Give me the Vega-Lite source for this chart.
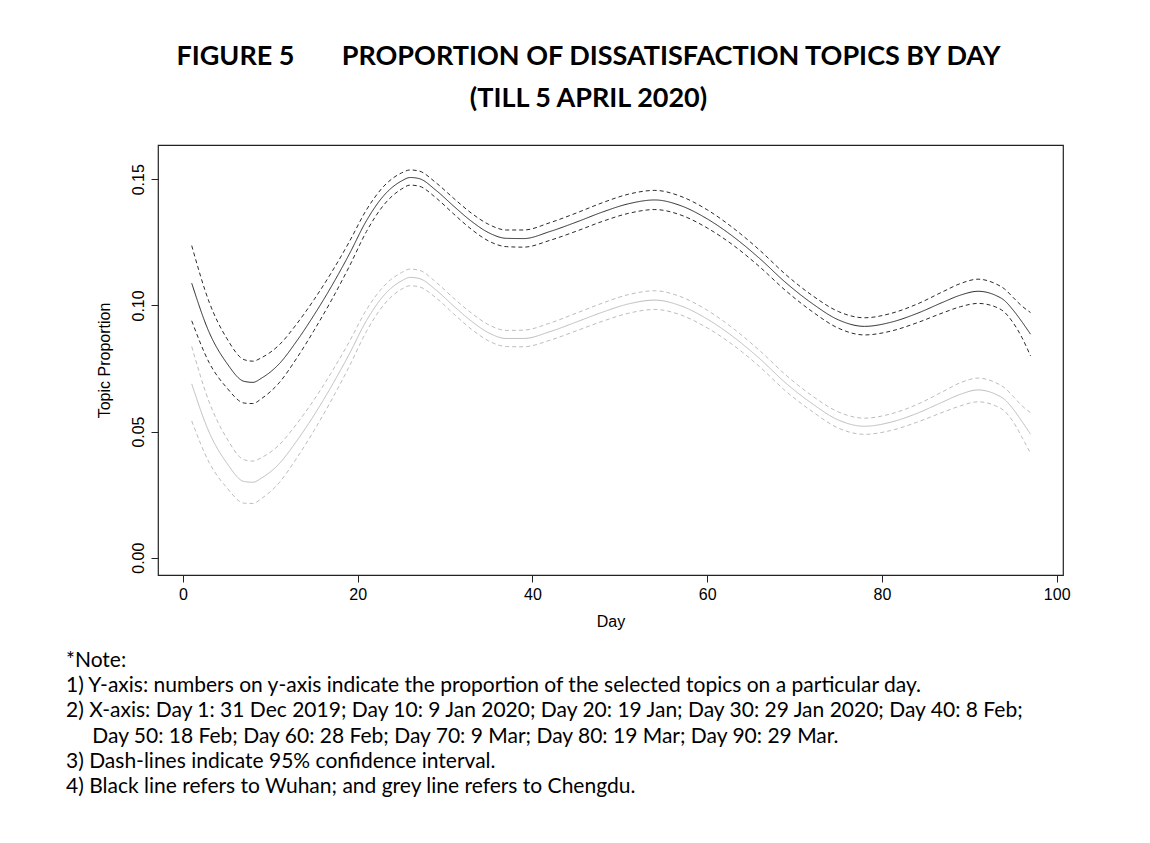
{
  "$schema": "https://vega.github.io/schema/vega-lite/v6.json",
  "background": "white",
  "padding": {"left": 66, "top": 42, "right": 10, "bottom": 10},
  "bounds": "flush",
  "spacing": 92,
  "config": {"view": {"stroke": null}},
  "datasets": {
    "curves": [
      {"city": "Wuhan", "day": 1, "est": 0.1088, "hi": 0.1237, "lo": 0.0939},
      {"city": "Wuhan", "day": 3, "est": 0.0893, "hi": 0.1013, "lo": 0.0773},
      {"city": "Wuhan", "day": 5, "est": 0.0772, "hi": 0.0870, "lo": 0.0674},
      {"city": "Wuhan", "day": 7, "est": 0.0699, "hi": 0.0785, "lo": 0.0613},
      {"city": "Wuhan", "day": 8, "est": 0.0695, "hi": 0.0779, "lo": 0.0611},
      {"city": "Wuhan", "day": 9, "est": 0.0712, "hi": 0.0793, "lo": 0.0631},
      {"city": "Wuhan", "day": 11, "est": 0.0768, "hi": 0.0843, "lo": 0.0693},
      {"city": "Wuhan", "day": 13, "est": 0.0858, "hi": 0.0926, "lo": 0.0790},
      {"city": "Wuhan", "day": 15, "est": 0.0962, "hi": 0.1023, "lo": 0.0901},
      {"city": "Wuhan", "day": 17, "est": 0.1076, "hi": 0.1131, "lo": 0.1021},
      {"city": "Wuhan", "day": 19, "est": 0.1201, "hi": 0.1250, "lo": 0.1152},
      {"city": "Wuhan", "day": 21, "est": 0.1336, "hi": 0.1379, "lo": 0.1293},
      {"city": "Wuhan", "day": 23, "est": 0.1436, "hi": 0.1473, "lo": 0.1399},
      {"city": "Wuhan", "day": 25, "est": 0.1493, "hi": 0.1525, "lo": 0.1461},
      {"city": "Wuhan", "day": 26, "est": 0.1507, "hi": 0.1537, "lo": 0.1477},
      {"city": "Wuhan", "day": 27, "est": 0.1503, "hi": 0.1533, "lo": 0.1473},
      {"city": "Wuhan", "day": 29, "est": 0.1455, "hi": 0.1485, "lo": 0.1425},
      {"city": "Wuhan", "day": 31, "est": 0.1393, "hi": 0.1424, "lo": 0.1362},
      {"city": "Wuhan", "day": 33, "est": 0.1334, "hi": 0.1366, "lo": 0.1302},
      {"city": "Wuhan", "day": 35, "est": 0.1288, "hi": 0.1321, "lo": 0.1255},
      {"city": "Wuhan", "day": 37, "est": 0.1266, "hi": 0.1299, "lo": 0.1233},
      {"city": "Wuhan", "day": 39, "est": 0.1265, "hi": 0.1299, "lo": 0.1231},
      {"city": "Wuhan", "day": 42, "est": 0.1293, "hi": 0.1328, "lo": 0.1258},
      {"city": "Wuhan", "day": 45, "est": 0.1330, "hi": 0.1366, "lo": 0.1294},
      {"city": "Wuhan", "day": 48, "est": 0.1370, "hi": 0.1407, "lo": 0.1333},
      {"city": "Wuhan", "day": 51, "est": 0.1403, "hi": 0.1441, "lo": 0.1365},
      {"city": "Wuhan", "day": 54, "est": 0.1418, "hi": 0.1456, "lo": 0.1380},
      {"city": "Wuhan", "day": 57, "est": 0.1395, "hi": 0.1432, "lo": 0.1358},
      {"city": "Wuhan", "day": 60, "est": 0.1343, "hi": 0.1379, "lo": 0.1307},
      {"city": "Wuhan", "day": 63, "est": 0.1272, "hi": 0.1306, "lo": 0.1238},
      {"city": "Wuhan", "day": 66, "est": 0.1186, "hi": 0.1219, "lo": 0.1153},
      {"city": "Wuhan", "day": 69, "est": 0.1090, "hi": 0.1122, "lo": 0.1058},
      {"city": "Wuhan", "day": 72, "est": 0.1008, "hi": 0.1040, "lo": 0.0976},
      {"city": "Wuhan", "day": 75, "est": 0.0943, "hi": 0.0976, "lo": 0.0910},
      {"city": "Wuhan", "day": 78, "est": 0.0917, "hi": 0.0951, "lo": 0.0883},
      {"city": "Wuhan", "day": 81, "est": 0.0933, "hi": 0.0968, "lo": 0.0898},
      {"city": "Wuhan", "day": 84, "est": 0.0968, "hi": 0.1005, "lo": 0.0931},
      {"city": "Wuhan", "day": 87, "est": 0.1013, "hi": 0.1055, "lo": 0.0971},
      {"city": "Wuhan", "day": 89, "est": 0.1041, "hi": 0.1087, "lo": 0.0995},
      {"city": "Wuhan", "day": 91, "est": 0.1056, "hi": 0.1104, "lo": 0.1008},
      {"city": "Wuhan", "day": 93, "est": 0.1040, "hi": 0.1086, "lo": 0.0994},
      {"city": "Wuhan", "day": 94, "est": 0.1020, "hi": 0.1066, "lo": 0.0974},
      {"city": "Wuhan", "day": 95, "est": 0.0982, "hi": 0.1032, "lo": 0.0932},
      {"city": "Wuhan", "day": 96, "est": 0.0936, "hi": 0.0998, "lo": 0.0874},
      {"city": "Wuhan", "day": 97, "est": 0.0886, "hi": 0.0972, "lo": 0.0800},
      {"city": "Chengdu", "day": 1, "est": 0.0689, "hi": 0.0837, "lo": 0.0542},
      {"city": "Chengdu", "day": 3, "est": 0.0497, "hi": 0.0617, "lo": 0.0377},
      {"city": "Chengdu", "day": 5, "est": 0.0376, "hi": 0.0474, "lo": 0.0278},
      {"city": "Chengdu", "day": 7, "est": 0.0302, "hi": 0.0388, "lo": 0.0216},
      {"city": "Chengdu", "day": 8, "est": 0.0299, "hi": 0.0383, "lo": 0.0215},
      {"city": "Chengdu", "day": 9, "est": 0.0316, "hi": 0.0397, "lo": 0.0235},
      {"city": "Chengdu", "day": 11, "est": 0.0372, "hi": 0.0447, "lo": 0.0297},
      {"city": "Chengdu", "day": 13, "est": 0.0462, "hi": 0.0530, "lo": 0.0394},
      {"city": "Chengdu", "day": 15, "est": 0.0565, "hi": 0.0626, "lo": 0.0504},
      {"city": "Chengdu", "day": 17, "est": 0.0680, "hi": 0.0735, "lo": 0.0625},
      {"city": "Chengdu", "day": 19, "est": 0.0805, "hi": 0.0854, "lo": 0.0756},
      {"city": "Chengdu", "day": 21, "est": 0.0940, "hi": 0.0983, "lo": 0.0897},
      {"city": "Chengdu", "day": 23, "est": 0.1040, "hi": 0.1077, "lo": 0.1003},
      {"city": "Chengdu", "day": 25, "est": 0.1097, "hi": 0.1130, "lo": 0.1064},
      {"city": "Chengdu", "day": 26, "est": 0.1111, "hi": 0.1144, "lo": 0.1078},
      {"city": "Chengdu", "day": 27, "est": 0.1107, "hi": 0.1140, "lo": 0.1074},
      {"city": "Chengdu", "day": 29, "est": 0.1060, "hi": 0.1091, "lo": 0.1029},
      {"city": "Chengdu", "day": 31, "est": 0.0997, "hi": 0.1028, "lo": 0.0966},
      {"city": "Chengdu", "day": 33, "est": 0.0938, "hi": 0.0970, "lo": 0.0906},
      {"city": "Chengdu", "day": 35, "est": 0.0891, "hi": 0.0923, "lo": 0.0859},
      {"city": "Chengdu", "day": 37, "est": 0.0869, "hi": 0.0901, "lo": 0.0837},
      {"city": "Chengdu", "day": 39, "est": 0.0869, "hi": 0.0902, "lo": 0.0836},
      {"city": "Chengdu", "day": 42, "est": 0.0896, "hi": 0.0930, "lo": 0.0862},
      {"city": "Chengdu", "day": 45, "est": 0.0934, "hi": 0.0969, "lo": 0.0899},
      {"city": "Chengdu", "day": 48, "est": 0.0973, "hi": 0.1009, "lo": 0.0937},
      {"city": "Chengdu", "day": 51, "est": 0.1006, "hi": 0.1043, "lo": 0.0969},
      {"city": "Chengdu", "day": 54, "est": 0.1021, "hi": 0.1058, "lo": 0.0984},
      {"city": "Chengdu", "day": 57, "est": 0.0998, "hi": 0.1034, "lo": 0.0962},
      {"city": "Chengdu", "day": 60, "est": 0.0946, "hi": 0.0981, "lo": 0.0911},
      {"city": "Chengdu", "day": 63, "est": 0.0875, "hi": 0.0908, "lo": 0.0842},
      {"city": "Chengdu", "day": 66, "est": 0.0789, "hi": 0.0821, "lo": 0.0757},
      {"city": "Chengdu", "day": 69, "est": 0.0692, "hi": 0.0724, "lo": 0.0660},
      {"city": "Chengdu", "day": 72, "est": 0.0611, "hi": 0.0642, "lo": 0.0580},
      {"city": "Chengdu", "day": 75, "est": 0.0546, "hi": 0.0578, "lo": 0.0514},
      {"city": "Chengdu", "day": 78, "est": 0.0521, "hi": 0.0553, "lo": 0.0489},
      {"city": "Chengdu", "day": 81, "est": 0.0537, "hi": 0.0570, "lo": 0.0504},
      {"city": "Chengdu", "day": 84, "est": 0.0572, "hi": 0.0607, "lo": 0.0537},
      {"city": "Chengdu", "day": 87, "est": 0.0618, "hi": 0.0659, "lo": 0.0577},
      {"city": "Chengdu", "day": 89, "est": 0.0648, "hi": 0.0694, "lo": 0.0602},
      {"city": "Chengdu", "day": 91, "est": 0.0665, "hi": 0.0712, "lo": 0.0618},
      {"city": "Chengdu", "day": 93, "est": 0.0648, "hi": 0.0694, "lo": 0.0602},
      {"city": "Chengdu", "day": 94, "est": 0.0628, "hi": 0.0674, "lo": 0.0582},
      {"city": "Chengdu", "day": 95, "est": 0.0590, "hi": 0.0640, "lo": 0.0540},
      {"city": "Chengdu", "day": 96, "est": 0.0541, "hi": 0.0603, "lo": 0.0479},
      {"city": "Chengdu", "day": 97, "est": 0.0490, "hi": 0.0575, "lo": 0.0414}
    ],
    "notes": [
      {"n": 1, "text": "*Note:"},
      {"n": 2, "text": "1) Y-axis: numbers on y-axis indicate the proportion of the selected topics on a particular day."},
      {"n": 3, "text": "2) X-axis: Day 1: 31 Dec 2019; Day 10: 9 Jan 2020; Day 20: 19 Jan; Day 30: 29 Jan 2020; Day 40: 8 Feb;"},
      {"n": 4, "text": "\u200b\u2003\u2002Day 50: 18 Feb; Day 60: 28 Feb; Day 70: 9 Mar; Day 80: 19 Mar; Day 90: 29 Mar."},
      {"n": 5, "text": "3) Dash-lines indicate 95% confidence interval."},
      {"n": 6, "text": "4) Black line refers to Wuhan; and grey line refers to Chengdu."}
    ]
  },
  "vconcat": [
    {
      "width": 905,
      "height": 430,
      "view": {"stroke": "#222222", "strokeWidth": 1.2},
      "title": {
        "text": ["FIGURE 5\u2003\u2003\u2009\u2009PROPORTION OF DISSATISFACTION TOPICS BY DAY", "(TILL 5 APRIL 2020)"],
        "font": "Lato",
        "fontWeight": "bold",
        "fontSize": 27,
        "lineHeight": 42,
        "anchor": "middle",
        "frame": "group",
        "dx": -22,
        "offset": 32,
        "color": "black"
      },
      "data": {"name": "curves"},
      "transform": [{"fold": ["est", "lo", "hi"], "as": ["bound", "value"]}],
      "mark": {"type": "line", "interpolate": "monotone", "strokeWidth": 1, "clip": true},
      "encoding": {
        "x": {
          "field": "day",
          "type": "quantitative",
          "scale": {"domain": [-2.86, 100.72], "nice": false, "zero": false},
          "axis": {
            "values": [0, 20, 40, 60, 80, 100],
            "domain": false,
            "grid": false,
            "tickSize": 7,
            "tickColor": "#222222",
            "labelFont": "Liberation Sans",
            "labelFontSize": 16,
            "labelColor": "black",
            "labelPadding": 4,
            "labelFlush": false,
            "labelOverlap": false,
            "title": "Day",
            "titleFont": "Liberation Sans",
            "titleFontSize": 16,
            "titleFontWeight": "normal",
            "titleColor": "black",
            "titlePadding": 11
          }
        },
        "y": {
          "field": "value",
          "type": "quantitative",
          "scale": {"domain": [-0.00686, 0.16359], "nice": false, "zero": false},
          "axis": {
            "values": [0, 0.05, 0.1, 0.15],
            "format": ".2f",
            "domain": false,
            "grid": false,
            "tickSize": 7,
            "tickColor": "#222222",
            "labelFont": "Liberation Sans",
            "labelFontSize": 16,
            "labelColor": "black",
            "labelAngle": 270,
            "labelAlign": "center",
            "labelBaseline": "alphabetic",
            "labelPadding": 8,
            "labelFlush": false,
            "labelOverlap": false,
            "title": "Topic Proportion",
            "titleFont": "Liberation Sans",
            "titleFontSize": 16,
            "titleFontWeight": "normal",
            "titleColor": "black",
            "titlePadding": 18
          }
        },
        "color": {
          "field": "city",
          "type": "nominal",
          "scale": {"domain": ["Wuhan", "Chengdu"], "range": ["#2b2b2b", "#bdbdbd"]},
          "legend": null
        },
        "strokeDash": {
          "field": "bound",
          "type": "nominal",
          "scale": {"domain": ["est", "lo", "hi"], "range": [[1, 0], [4, 3], [4, 3]]},
          "legend": null
        }
      }
    },
    {
      "width": 905,
      "height": 126,
      "data": {"name": "notes"},
      "mark": {"type": "text", "align": "left", "baseline": "alphabetic", "font": "Lato", "fontSize": 21, "color": "black", "dx": -92},
      "encoding": {
        "y": {"field": "n", "type": "ordinal", "scale": {"type": "point", "padding": 0}, "axis": null},
        "x": {"value": 0},
        "text": {"field": "text"}
      }
    }
  ]
}
